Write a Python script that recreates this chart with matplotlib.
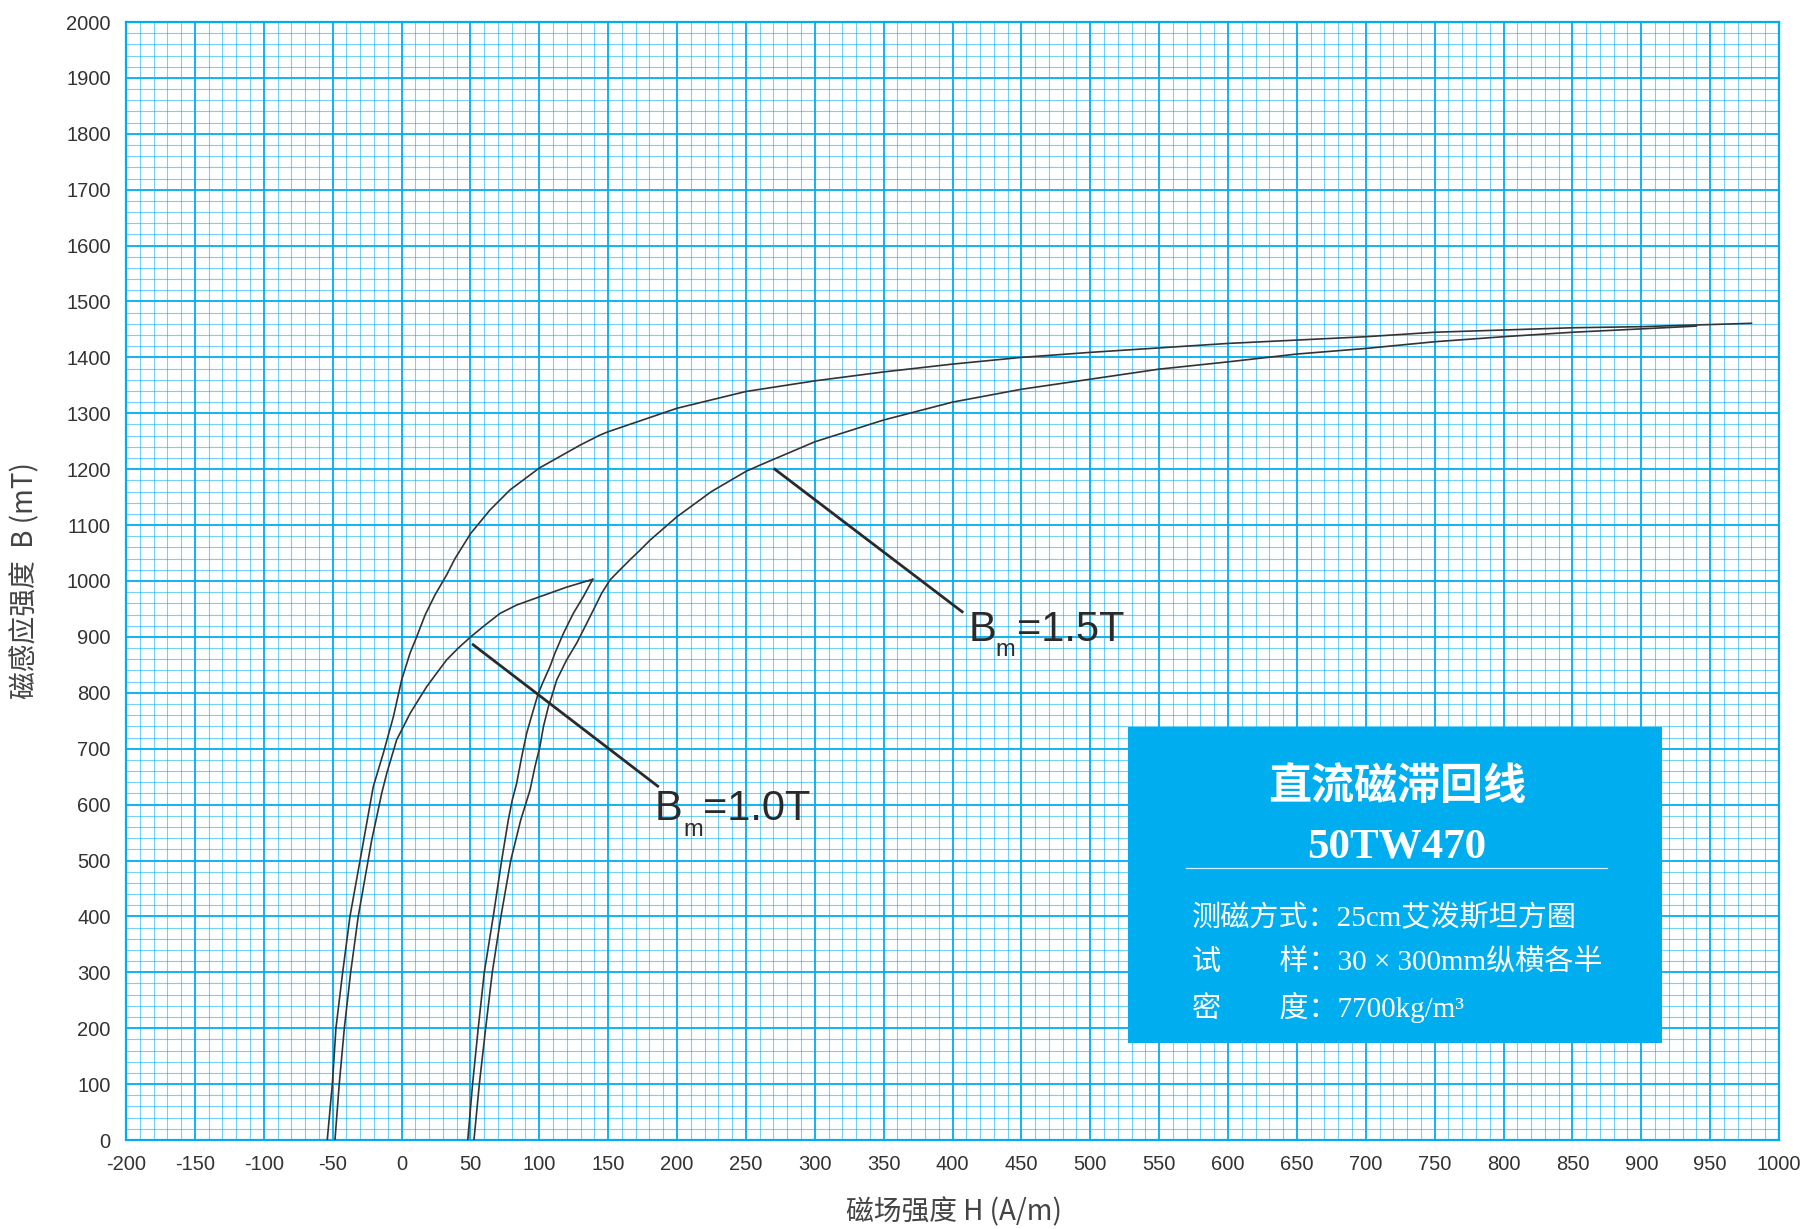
import matplotlib
matplotlib.use("Agg")
import matplotlib.pyplot as plt
from matplotlib.patches import Rectangle

# Bm = 1.5T loop (upper half), descending branch: H (A/m), B (mT)
h_15_down = [980, 900, 850, 800, 750, 700, 650, 600, 550, 500, 450, 400, 350, 300, 250, 200,
             150, 144, 129.6, 100, 78.8, 64.2, 50.2, 38.8, 32.8, 24.3, 17.1, 11.0, 6.2, 0.1,
             -5.9, -13.2, -20.5, -30.1, -37.4, -42.7, -47.6, -50.2, -53.9]
b_15_down = [1461, 1455, 1453, 1449, 1445, 1437, 1431, 1425, 1417, 1409, 1400, 1388, 1374, 1358, 1339, 1309,
             1267, 1261, 1243, 1202, 1163, 1127, 1085, 1040, 1011, 975, 939, 900, 871, 823,
             757, 692, 632, 500, 400, 300, 200, 100, 0]

# Bm = 1.5T loop, ascending branch
h_15_up = [52.6, 56.5, 61.1, 65.9, 72.2, 79.3, 86.5, 93.3, 96.9, 100.5, 103, 106.6, 109, 112.7, 119.9,
           127.2, 134.4, 140.5, 145.3, 151.4, 158.6, 165.9, 173.1, 180.4, 200, 225, 250, 260, 300,
           350, 400, 450, 500, 550, 600, 650, 700, 750, 800, 850, 900, 940]
b_15_up = [0, 100, 200, 300, 400, 500, 572, 626, 668, 704, 739, 775, 793, 823, 859,
           889, 924, 954, 978, 1002, 1020, 1038, 1055, 1073, 1115, 1160, 1196, 1207, 1249,
           1288, 1320, 1343, 1361, 1379, 1392, 1406, 1416, 1428, 1437, 1445, 1451, 1456]

# Bm = 1.0T loop, descending branch
h_10_down = [138.8, 119.9, 100.5, 83.6, 71.5, 60.6, 50.2, 41.2, 32.8, 25.5, 18.3, 12.2, 6.2, 1.3,
             -3.5, -7.1, -10.7, -14.4, -18.0, -21.6, -31.4, -36.9, -41.5, -45.2, -48.3]
b_10_down = [1003, 989, 972, 957, 942, 921, 900, 880, 859, 835, 811, 787, 763, 739,
             716, 686, 656, 620, 578, 537, 400, 300, 200, 100, 0]

# Bm = 1.0T loop, ascending branch
h_10_up = [48.1, 51.6, 55.7, 60.1, 66.6, 72.7, 77.5, 80.4, 83.6, 87.3, 90.9, 95.7, 99.3, 102.9,
           107.8, 111.4, 117.5, 124.7, 132, 138.8]
b_10_up = [0, 100, 200, 300, 400, 500, 572, 608, 638, 686, 728, 769, 799, 820,
           847, 871, 906, 942, 972, 1003]

x_ticks = list(range(-200, 1001, 50))
y_ticks = list(range(0, 2001, 100))

title = "直流磁滞回线"
grade = "50TW470"
info_lines = ["测磁方式：25cm艾泼斯坦方圈",
              "试\u3000\u3000样：30 × 300mm纵横各半",
              "密\u3000\u3000度：7700kg/m³"]

cyan = "#00AEEF"
ink = "#2a2a2a"

fig = plt.figure(figsize=(18.05, 12.29), dpi=100)
ax = fig.add_axes([126 / 1805, 89 / 1229, 1653 / 1805, 1118 / 1229])

ax.set_xlim(-200, 1000)
ax.set_ylim(0, 2000)
ax.set_xticks(x_ticks)
ax.set_yticks(y_ticks)
ax.set_xticks(list(range(-200, 1001, 10)), minor=True)
ax.set_yticks(list(range(0, 2001, 20)), minor=True)
ax.set_xticklabels([str(v) for v in x_ticks])
ax.set_yticklabels([str(v) for v in y_ticks])
ax.tick_params(which="both", length=0)
ax.tick_params(which="major", pad=11, labelsize=14.5, labelcolor="#333333")
for lab in ax.get_xticklabels() + ax.get_yticklabels():
    lab.set_family("Liberation Sans")

ax.set_axisbelow(True)
ax.grid(which="major", color=cyan, linewidth=1.3)
ax.grid(which="minor", color=cyan, linewidth=0.8, alpha=0.55)
for sp in ax.spines.values():
    sp.set_color(cyan)
    sp.set_linewidth(1.6)

for h, b in [(h_15_down, b_15_down), (h_15_up, b_15_up), (h_10_down, b_10_down), (h_10_up, b_10_up)]:
    ax.plot(h, b, color="#333333", linewidth=1.2, zorder=3, solid_joinstyle="round")

# leader lines and labels
ax.plot([52, 186], [886, 633], color=ink, linewidth=2.0, zorder=3)
ax.plot([271, 407], [1200, 945], color=ink, linewidth=2.0, zorder=3)
lab_font = dict(family="Liberation Sans", color=ink, va="baseline", zorder=4)
ax.text(184, 572, "B", fontsize=30, **lab_font)
ax.text(204.5, 543, "m", fontsize=17, **lab_font)
ax.text(219, 572, "=1.0T", fontsize=30, **lab_font)
ax.text(411.5, 893, "B", fontsize=30, **lab_font)
ax.text(431.5, 866, "m", fontsize=17, **lab_font)
ax.text(446.5, 893, "=1.5T", fontsize=30, **lab_font)

# info box
ax.add_patch(Rectangle((0.606, 0.0868), 0.323, 0.2822, transform=ax.transAxes,
                       facecolor=cyan, edgecolor="none", zorder=5))
ax.text(0.769, 0.3166, title, transform=ax.transAxes, ha="center", va="center",
        fontsize=31, fontweight="bold", color="white", family=["Noto Sans CJK SC"], zorder=6)
ax.text(0.769, 0.2612, grade, transform=ax.transAxes, ha="center", va="center",
        fontsize=31, fontweight="bold", color="white", family=["Liberation Serif"], zorder=6)
ax.plot([0.6413, 0.896], [0.2433, 0.2433], transform=ax.transAxes, color="#cfefff",
        linewidth=0.9, zorder=6)
for i, line in enumerate(info_lines):
    ax.text(0.6447, 0.198 - i * 0.0396, line, transform=ax.transAxes, ha="left", va="center",
            fontsize=21, color="white", family=["Liberation Serif", "Noto Sans CJK SC"], zorder=6)

fig.text(25 / 1805, 1 - 581 / 1229, "磁感应强度  B (mT)", rotation=90, ha="center", va="center",
         fontsize=20, color="#444444", family=["Noto Sans CJK SC", "Liberation Sans"])
fig.text(954 / 1805, 1 - 1212 / 1229, "磁场强度 H (A/m)", ha="center", va="center",
         fontsize=20, color="#444444", family=["Noto Sans CJK SC", "Liberation Sans"])

fig.savefig("out.png", dpi=100, facecolor="white")
